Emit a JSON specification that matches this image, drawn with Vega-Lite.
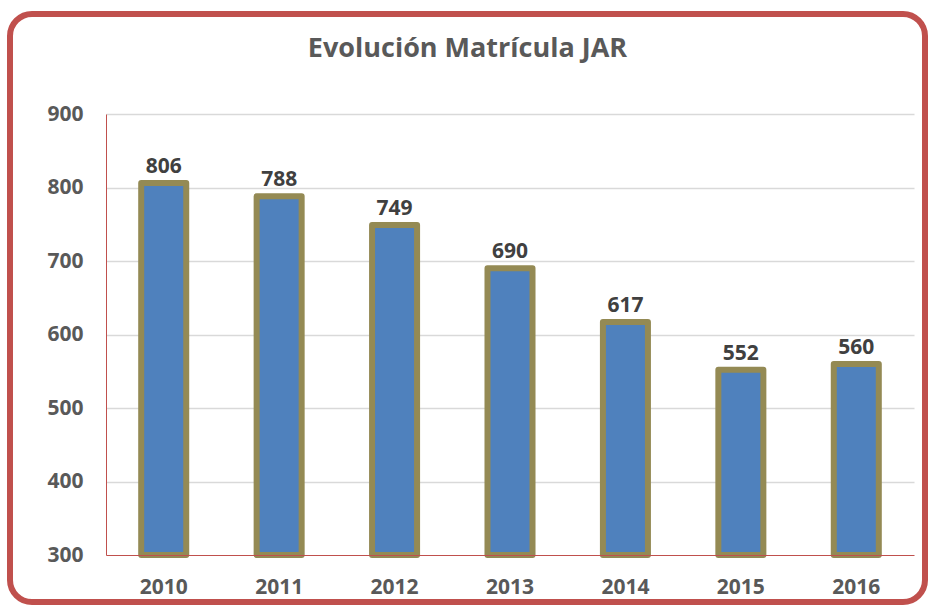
{
  "$schema": "https://vega.github.io/schema/vega-lite/v6.json",
  "width": 915,
  "height": 588,
  "autosize": {"type": "none"},
  "padding": {"left": 10, "top": 14, "right": 4, "bottom": 5},
  "background": "white",
  "title": {
    "text": "Evolución Matrícula JAR",
    "font": "Open Sans",
    "fontSize": 27,
    "fontWeight": "bold",
    "color": "#595959",
    "anchor": "middle",
    "baseline": "alphabetic",
    "offset": -70
  },
  "data": {
    "values": [
      {"year": "2010", "matricula": 806},
      {"year": "2011", "matricula": 788},
      {"year": "2012", "matricula": 749},
      {"year": "2013", "matricula": 690},
      {"year": "2014", "matricula": 617},
      {"year": "2015", "matricula": 552},
      {"year": "2016", "matricula": 560}
    ]
  },
  "encoding": {
    "x": {
      "field": "year",
      "type": "nominal",
      "sort": null,
      "scale": {"range": [96, 904], "paddingInner": 0.61, "paddingOuter": 0.305},
      "axis": {
        "title": null,
        "orient": "bottom",
        "offset": -47,
        "labelAngle": 0,
        "labelFont": "Open Sans",
        "labelFontSize": 21,
        "labelFontWeight": "bold",
        "labelColor": "#595959",
        "labelPadding": 21,
        "labelBaseline": "top",
        "ticks": false,
        "domainColor": "#C0504D",
        "domainWidth": 1,
        "grid": false,
        "zindex": 1
      }
    },
    "y": {
      "field": "matricula",
      "type": "quantitative",
      "scale": {"domain": [300, 900], "range": [541, 100], "zero": false, "nice": false},
      "axis": {
        "title": null,
        "orient": "left",
        "offset": -96,
        "values": [300, 400, 500, 600, 700, 800, 900],
        "labelFont": "Open Sans",
        "labelFontSize": 21,
        "labelFontWeight": "bold",
        "labelColor": "#595959",
        "labelPadding": 23,
        "ticks": false,
        "domainColor": "#C0504D",
        "domainWidth": 1,
        "grid": true,
        "gridColor": {"condition": {"test": "datum.value === 300", "value": "transparent"}, "value": "#D9D9D9"},
        "gridWidth": 1.5
      }
    }
  },
  "layer": [
    {
      "mark": {
        "type": "bar",
        "fill": "#4F81BD",
        "stroke": "#948A54",
        "strokeWidth": 6,
        "strokeJoin": "round"
      },
      "encoding": {
        "y2": {"datum": 300}
      }
    },
    {
      "mark": {
        "type": "text",
        "font": "Open Sans",
        "fontSize": 21,
        "fontWeight": "bold",
        "color": "#404040",
        "baseline": "alphabetic",
        "align": "center",
        "dy": -10
      },
      "encoding": {
        "text": {"field": "matricula", "type": "quantitative"}
      }
    }
  ],
  "config": {
    "view": {"stroke": "#C0504D", "strokeWidth": 6, "cornerRadius": 22}
  }
}
